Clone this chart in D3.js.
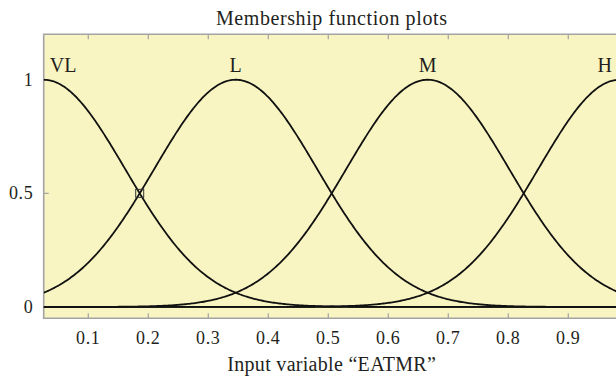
<!DOCTYPE html>
<html>
<head>
<meta charset="utf-8">
<script src="https://d3js.org/d3.v7.min.js"></script>
<style>
  html, body { margin: 0; padding: 0; background: #ffffff; }
  svg { display: block; }
  text { font-family: "Liberation Serif", "Times New Roman", serif; fill: #231f20; }
</style>
</head>
<body>
<svg id="chart" width="616" height="377"></svg>
<script>
// Gaussian membership functions of the input variable "EATMR"
const mfNames   = ["VL", "L", "M", "H"];
const mfCenters = [0.0257, 0.3457, 0.6657, 0.9857];
const mfSigmas  = [0.1359, 0.1359, 0.1359, 0.1359];
const xTicks    = [0.1, 0.2, 0.3, 0.4, 0.5, 0.6, 0.7, 0.8, 0.9];
const yTicks    = [0, 0.5, 1];
const xDomain   = [0.0257, 0.9857];
const yDomain   = [-0.05, 1.2];
const marker    = { x: 0.1857, y: 0.5 };

const svg = d3.select("#chart");
const plotL = 43.7, plotR = 619.7, plotT = 34.3, plotB = 318.3;

const x = d3.scaleLinear().domain(xDomain).range([plotL, plotR]);
const y = d3.scaleLinear().domain(yDomain).range([plotB, plotT]);

// plot background
svg.append("rect")
  .attr("x", plotL).attr("y", plotT)
  .attr("width", plotR - plotL).attr("height", plotB - plotT)
  .attr("fill", "#f9f5c2");

const frame = "#a3a3a3";

// inward ticks on top and bottom edges
const tickLen = 5;
svg.append("g").selectAll("line").data(xTicks).join("line")
  .attr("x1", d => x(d)).attr("x2", d => x(d))
  .attr("y1", plotB).attr("y2", plotB - tickLen)
  .attr("stroke", frame).attr("stroke-width", 1.2);
svg.append("g").selectAll("line").data(xTicks).join("line")
  .attr("x1", d => x(d)).attr("x2", d => x(d))
  .attr("y1", plotT).attr("y2", plotT + tickLen)
  .attr("stroke", frame).attr("stroke-width", 1.2);
svg.append("g").selectAll("line").data(yTicks).join("line")
  .attr("x1", plotL).attr("x2", plotL + tickLen)
  .attr("y1", d => y(d)).attr("y2", d => y(d))
  .attr("stroke", frame).attr("stroke-width", 1.2);

// frame
svg.append("path")
  .attr("d", `M${plotR},${plotT}H${plotL}V${plotB}H${plotR}`)
  .attr("fill", "none").attr("stroke", frame).attr("stroke-width", 1.6);

// tick labels
svg.append("g").selectAll("text").data(xTicks).join("text")
  .attr("x", d => x(d)).attr("y", 343.5)
  .attr("text-anchor", "middle").attr("font-size", 18)
  .attr("letter-spacing", 0.7)
  .text(d => d3.format(".1f")(d));
svg.append("g").selectAll("text").data(yTicks).join("text")
  .attr("x", 33.5).attr("y", d => y(d) + 6)
  .attr("text-anchor", "end").attr("font-size", 18)
  .attr("letter-spacing", 0.7)
  .text(d => d === 0.5 ? "0.5" : String(d));

// zero line
svg.append("line")
  .attr("x1", plotL).attr("x2", plotR)
  .attr("y1", y(0)).attr("y2", y(0))
  .attr("stroke", "#111").attr("stroke-width", 1.6);

// membership curves
const samples = d3.range(0, 401).map(i => xDomain[0] + (xDomain[1] - xDomain[0]) * i / 400);
const line = d3.line().x(d => x(d[0])).y(d => y(d[1]));
const curves = mfCenters.map((c, i) =>
  samples.map(v => [v, Math.exp(-((v - c) ** 2) / (2 * mfSigmas[i] ** 2))]));
svg.append("clipPath").attr("id", "plotclip")
  .append("rect").attr("x", plotL).attr("y", plotT)
  .attr("width", plotR - plotL).attr("height", plotB - plotT);
svg.append("g").attr("clip-path", "url(#plotclip)")
  .selectAll("path").data(curves).join("path")
  .attr("d", line).attr("fill", "none")
  .attr("stroke", "#111").attr("stroke-width", 1.8);

// selected point marker
const ms = 8;
svg.append("rect")
  .attr("x", x(marker.x) - ms / 2).attr("y", y(marker.y) - ms / 2)
  .attr("width", ms).attr("height", ms)
  .attr("fill", "none").attr("stroke", "#333").attr("stroke-width", 1);

// membership function names above each peak, kept inside the frame
svg.append("g").selectAll("text").data(mfNames).join("text")
  .attr("y", 72)
  .attr("font-size", 20)
  .attr("text-anchor", "middle")
  .text(d => d)
  .attr("x", function(d, i) {
    const w = this.getComputedTextLength();
    let cx = x(mfCenters[i]);
    cx = Math.max(cx, plotL + 6 + w / 2);
    cx = Math.min(cx, 612 - w / 2);
    return cx;
  });

// title and axis label
svg.append("text")
  .attr("x", (plotL + plotR) / 2).attr("y", 25)
  .attr("text-anchor", "middle").attr("font-size", 20)
  .attr("letter-spacing", 0.6)
  .text("Membership function plots");
svg.append("text")
  .attr("x", (plotL + plotR) / 2).attr("y", 370.5)
  .attr("text-anchor", "middle").attr("font-size", 20)
  .attr("letter-spacing", 0.3)
  .text("Input variable \u201cEATMR\u201d");
</script>
</body>
</html>
